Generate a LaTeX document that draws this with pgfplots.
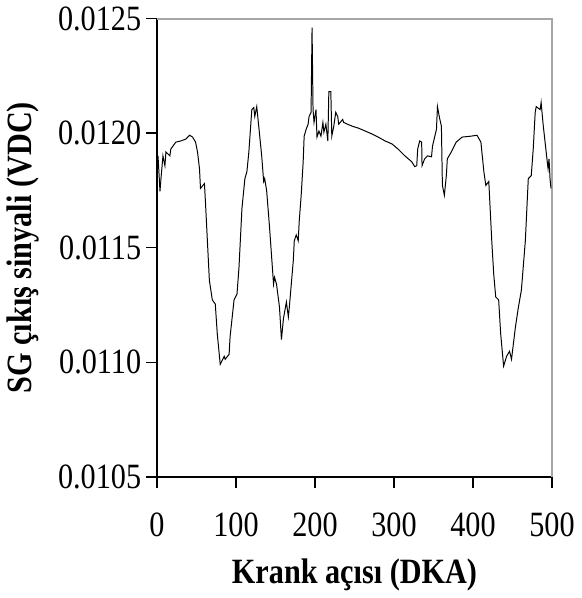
\documentclass[border=0pt]{standalone}
\usepackage{fontspec}
\setmainfont{Liberation Serif}
\newfontfamily\tallfont{Liberation Serif}[FakeStretch=0.85]
\usepackage{pgfplots}
\pgfplotsset{compat=1.18}

% SG signal vs crank angle
\pgfplotstableread{
x y
1.25 0.011901
3.75 0.011746
5 0.011802
7.5 0.011901
10 0.011858
11.25 0.011918
16.25 0.011901
17.5 0.011931
23.75 0.011961
30 0.011966
36.25 0.011974
41.25 0.011991
45 0.011983
48.75 0.011961
51.25 0.011918
53.75 0.011845
55 0.011759
60 0.011780
61.25 0.011703
63.75 0.011530
66.25 0.011358
70 0.011272
73.75 0.011254
76.25 0.011125
80 0.010991
85 0.011026
86.25 0.011013
91.25 0.011035
92.5 0.011112
97.5 0.011272
101.25 0.011298
103.75 0.011414
107.5 0.011672
111.25 0.011802
113.75 0.011832
116.25 0.011918
120 0.012103
122.5 0.012112
123.75 0.012073
126.25 0.012116
128.75 0.012030
132.5 0.011901
135 0.011789
136.25 0.011802
138.75 0.011750
142.5 0.011586
147.5 0.011341
148.75 0.011371
151.25 0.011341
155 0.011241
157.5 0.011099
160 0.011190
163.75 0.011263
166.25 0.011198
167.5 0.011241
172.5 0.011444
173.75 0.011530
176.25 0.011556
178.75 0.011530
180 0.011616
182.5 0.011729
185 0.011875
186.25 0.011987
188.75 0.012017
191.25 0.012039
192.5 0.012073
195 0.012091
196.25 0.012461
197.5 0.012103
198.75 0.012047
201.25 0.012103
202.5 0.011983
205 0.012009
207.5 0.011987
210 0.012047
211.25 0.012004
213.75 0.012039
216.25 0.011966
217.5 0.012181
220 0.012181
221.25 0.011987
223.75 0.012030
226.25 0.012091
228.75 0.012073
230 0.012039
235 0.012060
236.25 0.012047
241.25 0.012039
247.5 0.012030
255 0.012022
263.75 0.012009
272.5 0.011996
280 0.011983
288.75 0.011966
297.5 0.011953
305 0.011931
313.75 0.011901
322.5 0.011875
326.25 0.011854
328.75 0.011858
330 0.011931
332.5 0.011966
335 0.011961
335.5 0.011858
338.75 0.011888
342.5 0.011901
347.5 0.011897
348.75 0.011944
353.75 0.012017
355 0.012116
357.5 0.012069
360 0.012030
361.25 0.011772
363.75 0.011729
366.25 0.011815
367.5 0.011888
372.5 0.011918
378.75 0.011961
386.25 0.011983
397.5 0.011987
405 0.011991
410 0.011961
413.75 0.011832
416.25 0.011772
420 0.011789
423.75 0.011530
426.25 0.011384
428.75 0.011285
432.5 0.011272
435 0.011125
438.75 0.010983
442.5 0.011026
446.25 0.011048
448.75 0.011013
453.75 0.011155
457.5 0.011241
461.25 0.011315
466.25 0.011530
470 0.011802
473.75 0.011815
476.25 0.011931
478.75 0.012091
480 0.012116
485 0.012103
486.25 0.012134
488.75 0.012039
491.25 0.011961
495 0.011845
496.25 0.011888
497.5 0.011802
498.75 0.011759
}\sgdata

\begin{document}
\begin{tikzpicture}
\begin{axis}[
  width=200pt, height=232pt,
  scale only axis,
  xmin=0, xmax=500,
  ymin=0.0105, ymax=0.0125,
  xtick={0,100,...,500},
  ytick={0.0105,0.011,0.0115,0.012,0.0125},
  scaled y ticks=false,
  yticklabel style={xshift=1pt, /pgf/number format/.cd, fixed, fixed zerofill, precision=4},
  /pgf/number format/assume math mode=true,
  axis x line*=bottom,
  axis y line*=left,
  axis line style={black, line width=0.75pt},
  tick align=outside,
  major tick length=5.5pt,
  tick style={black, line width=0.75pt},
  ticklabel style={font=\tallfont\fontsize{18}{20}\selectfont},
  xticklabel style={yshift=-9pt},
  xlabel={Krank açısı (DKA)},
  ylabel={SG çıkış sinyali (VDC)},
  label style={font=\tallfont\fontsize{18}{20}\selectfont\bfseries},
  xlabel style={at={(axis description cs:0.5,-0.215)}, anchor=center},
  ylabel style={at={(axis description cs:-0.34,0.5)}, anchor=center},
  clip=false,
]
\draw[gray!70, line width=0.9pt] (rel axis cs:0,1) -- (rel axis cs:1,1) -- (rel axis cs:1,0);
\addplot[black, line width=0.5pt] table[x=x, y=y] {\sgdata};
\end{axis}
\end{tikzpicture}
\end{document}
